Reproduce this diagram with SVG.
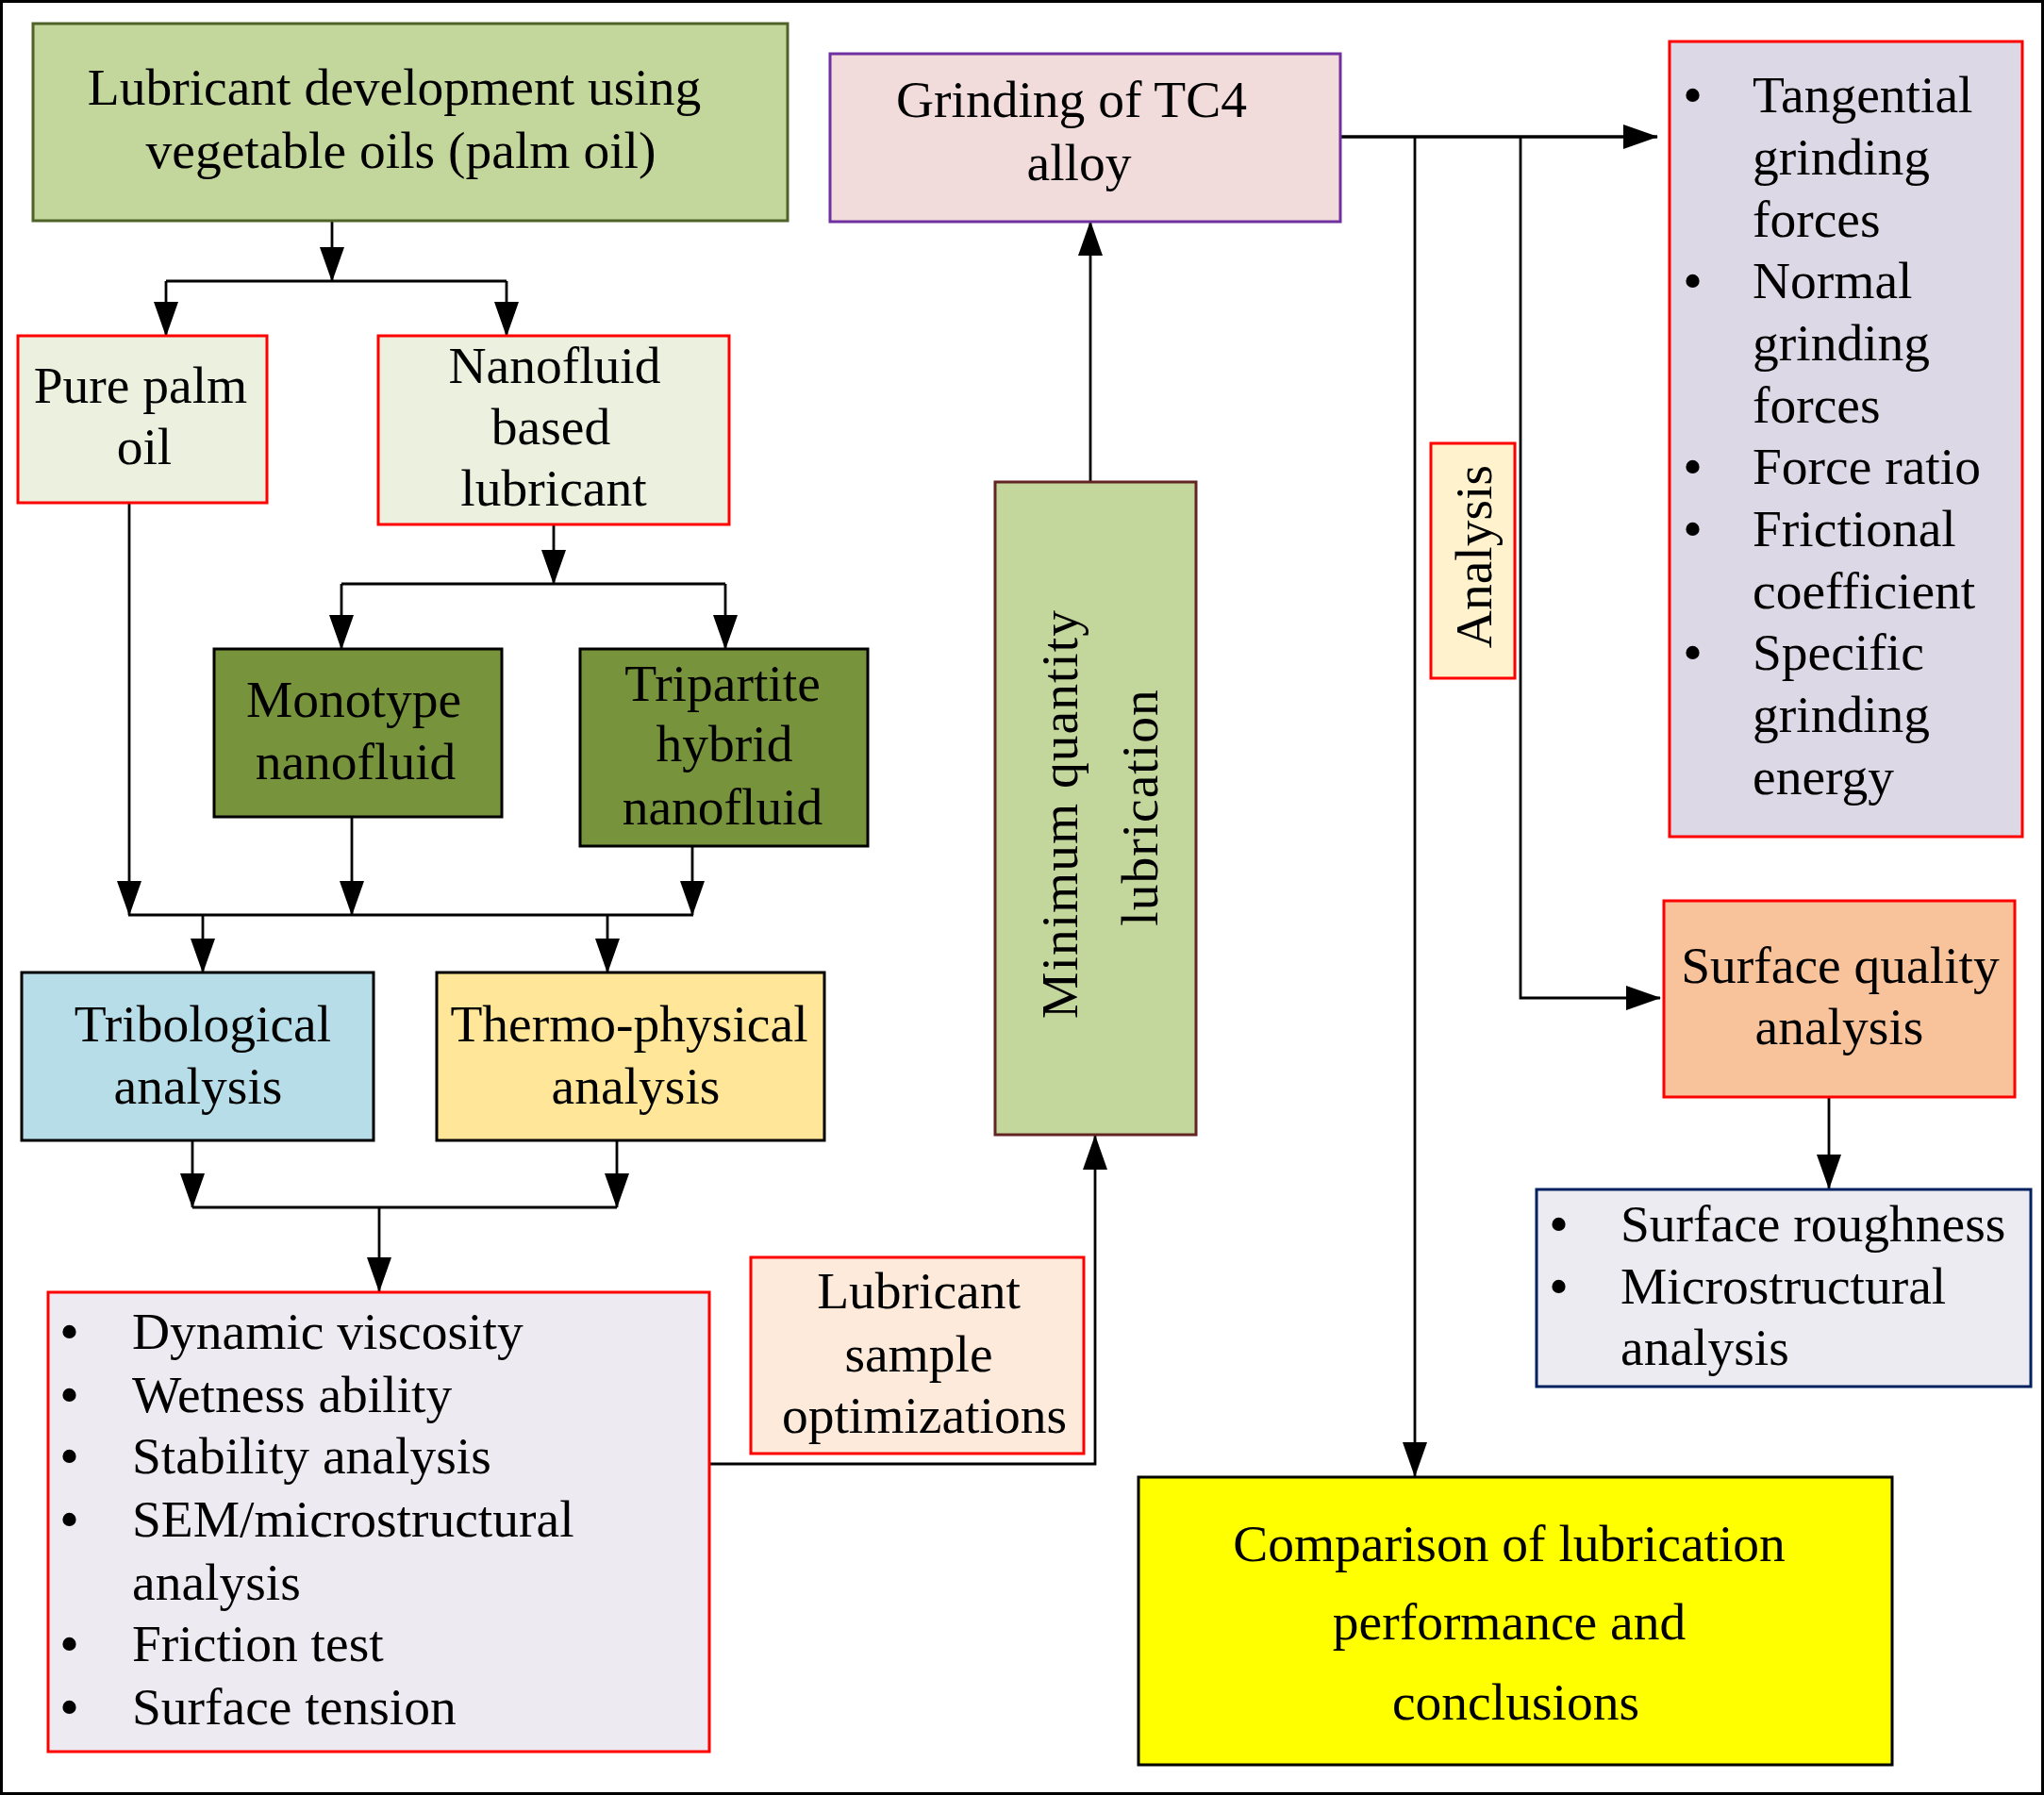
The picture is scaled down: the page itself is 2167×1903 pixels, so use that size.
<svg xmlns="http://www.w3.org/2000/svg" width="2167" height="1903" viewBox="0 0 2167 1903">
<style>
text{font-family:"Liberation Serif","Times New Roman",serif;font-size:55.5px;fill:#000}
.c{text-anchor:middle}
.box{stroke-width:3}
.ln{stroke:#000;stroke-width:2.8;fill:none}
.b{font-size:60px}
</style>
<defs>
<marker id="ah" markerUnits="userSpaceOnUse" markerWidth="38" markerHeight="26" refX="36" refY="13" orient="auto">
<path d="M0,0 L37,13 L0,26 z" fill="#000"/>
</marker>
</defs>
<rect x="0" y="0" width="2167" height="1903" fill="#fff"/>
<rect x="1.5" y="1.5" width="2164" height="1900" fill="none" stroke="#000" stroke-width="3"/>

<g id="connectors">
<path class="ln" d="M352,234 V298" marker-end="url(#ah)"/>
<path class="ln" d="M176,298 H537"/>
<path class="ln" d="M176,298 V356" marker-end="url(#ah)"/>
<path class="ln" d="M537,298 V356" marker-end="url(#ah)"/>
<path class="ln" d="M137,533 V970" marker-end="url(#ah)"/>
<path class="ln" d="M587,556 V619" marker-end="url(#ah)"/>
<path class="ln" d="M362,619 H769"/>
<path class="ln" d="M362,619 V688" marker-end="url(#ah)"/>
<path class="ln" d="M769,619 V688" marker-end="url(#ah)"/>
<path class="ln" d="M373,866 V970" marker-end="url(#ah)"/>
<path class="ln" d="M734,897 V970" marker-end="url(#ah)"/>
<path class="ln" d="M136,970 H735"/>
<path class="ln" d="M215,970 V1031" marker-end="url(#ah)"/>
<path class="ln" d="M644,970 V1031" marker-end="url(#ah)"/>
<path class="ln" d="M204,1209 V1280" marker-end="url(#ah)"/>
<path class="ln" d="M654,1209 V1280" marker-end="url(#ah)"/>
<path class="ln" d="M204,1280 H654"/>
<path class="ln" d="M402,1280 V1369" marker-end="url(#ah)"/>
<path class="ln" d="M752,1552 H1161 V1204" marker-end="url(#ah)"/>
<path class="ln" d="M1156,511 V235" marker-end="url(#ah)"/>
<path class="ln" style="stroke-width:3.6" d="M1421,145 H1757" marker-end="url(#ah)"/>
<path class="ln" d="M1500,145 V1565" marker-end="url(#ah)"/>
<path class="ln" d="M1612,145 V1058 H1760" marker-end="url(#ah)"/>
<path class="ln" d="M1939,1163 V1260" marker-end="url(#ah)"/>
</g>

<g id="n-top">
<rect class="box" x="35" y="25" width="800" height="209" fill="#c3d69b" stroke="#4f6228"/>
<text x="418" y="111" class="c" font-size="56">Lubricant development using</text>
<text x="425" y="178" class="c" font-size="56">vegetable oils (palm oil)</text>
</g>

<g id="n-pure">
<rect class="box" x="19" y="356" width="264" height="177" fill="#ebf1de" stroke="#ff0000"/>
<text x="149" y="427" class="c">Pure palm</text>
<text x="153" y="492" class="c">oil</text>
</g>

<g id="n-nano">
<rect class="box" x="401" y="356" width="372" height="200" fill="#ebf1de" stroke="#ff0000"/>
<text x="588" y="406" class="c">Nanofluid</text>
<text x="584" y="471" class="c">based</text>
<text x="587" y="536" class="c">lubricant</text>
</g>

<g id="n-mono">
<rect class="box" x="227" y="688" width="305" height="178" fill="#77933c" stroke="#000"/>
<text x="375" y="760" class="c">Monotype</text>
<text x="377" y="826" class="c">nanofluid</text>
</g>

<g id="n-tri">
<rect class="box" x="615" y="688" width="305" height="209" fill="#77933c" stroke="#000"/>
<text x="766" y="743" class="c">Tripartite</text>
<text x="768" y="807" class="c">hybrid</text>
<text x="766" y="874" class="c">nanofluid</text>
</g>

<g id="n-tribo">
<rect class="box" x="23" y="1031" width="373" height="178" fill="#b7dee8" stroke="#000"/>
<text x="215" y="1104" class="c">Tribological</text>
<text x="210" y="1170" class="c">analysis</text>
</g>

<g id="n-thermo">
<rect class="box" x="463" y="1031" width="411" height="178" fill="#ffe699" stroke="#000"/>
<text x="667" y="1104" class="c">Thermo-physical</text>
<text x="674" y="1170" class="c">analysis</text>
</g>

<g id="n-props">
<rect class="box" x="51" y="1370" width="701" height="487" fill="#edeaf1" stroke="#ff0000"/>
<text class="b" x="63" y="1432">•</text><text x="140" y="1430">Dynamic viscosity</text>
<text class="b" x="63" y="1499">•</text><text x="140" y="1497">Wetness ability</text>
<text class="b" x="63" y="1564">•</text><text x="140" y="1562">Stability analysis</text>
<text class="b" x="63" y="1631">•</text><text x="140" y="1629">SEM/microstructural</text>
<text x="140" y="1696">analysis</text>
<text class="b" x="63" y="1763">•</text><text x="140" y="1761">Friction test</text>
<text class="b" x="63" y="1830">•</text><text x="140" y="1828">Surface tension</text>
</g>

<g id="n-sample">
<rect class="box" x="796" y="1333" width="353" height="208" fill="#fdeada" stroke="#ff0000"/>
<text x="974" y="1387" class="c">Lubricant</text>
<text x="974" y="1454" class="c">sample</text>
<text x="980" y="1519" class="c">optimizations</text>
</g>

<g id="n-mql">
<rect class="box" x="1055" y="511" width="213" height="692" fill="#c3d69b" stroke="#632523"/>
<text transform="translate(1142,863) rotate(-90)" class="c" font-size="55" letter-spacing="1">Minimum quantity</text>
<text transform="translate(1227,856) rotate(-90)" class="c" font-size="55" letter-spacing="1">lubrication</text>
</g>

<g id="n-grind">
<rect class="box" x="880" y="57" width="541" height="178" fill="#f2dcdb" stroke="#7030a0"/>
<text x="1136" y="124" class="c">Grinding of TC4</text>
<text x="1144" y="191" class="c">alloy</text>
</g>

<g id="n-analysis">
<rect class="box" x="1517" y="470" width="89" height="249" fill="#fff2cc" stroke="#ff0000"/>
<text transform="translate(1581,590) rotate(-90)" class="c" font-size="55">Analysis</text>
</g>

<g id="n-forces">
<rect class="box" x="1770" y="44" width="374" height="843" fill="#dcd8e6" stroke="#ff0000"/>
<text class="b" x="1784" y="121">•</text><text x="1858" y="119">Tangential</text>
<text x="1858" y="185">grinding</text>
<text x="1858" y="251">forces</text>
<text class="b" x="1784" y="318">•</text><text x="1858" y="316">Normal</text>
<text x="1858" y="382">grinding</text>
<text x="1858" y="448">forces</text>
<text class="b" x="1784" y="515">•</text><text x="1858" y="513">Force ratio</text>
<text class="b" x="1784" y="581">•</text><text x="1858" y="579">Frictional</text>
<text x="1858" y="645">coefficient</text>
<text class="b" x="1784" y="712">•</text><text x="1858" y="710">Specific</text>
<text x="1858" y="776">grinding</text>
<text x="1858" y="842">energy</text>
</g>

<g id="n-surfq">
<rect class="box" x="1764" y="955" width="372" height="208" fill="#f8c39b" stroke="#ff0000"/>
<text x="1951" y="1042" class="c">Surface quality</text>
<text x="1950" y="1107" class="c">analysis</text>
</g>

<g id="n-rough">
<rect class="box" x="1629" y="1261" width="524" height="209" fill="#edebf2" stroke="#002060"/>
<text class="b" x="1642" y="1318">•</text><text x="1718" y="1316">Surface roughness</text>
<text class="b" x="1642" y="1384">•</text><text x="1718" y="1382">Microstructural</text>
<text x="1718" y="1447">analysis</text>
</g>

<g id="n-comp">
<rect class="box" x="1207" y="1566" width="799" height="305" fill="#ffff00" stroke="#000"/>
<text x="1600" y="1655" class="c">Comparison of lubrication</text>
<text x="1600" y="1738" class="c">performance and</text>
<text x="1607" y="1823" class="c">conclusions</text>
</g>
</svg>
